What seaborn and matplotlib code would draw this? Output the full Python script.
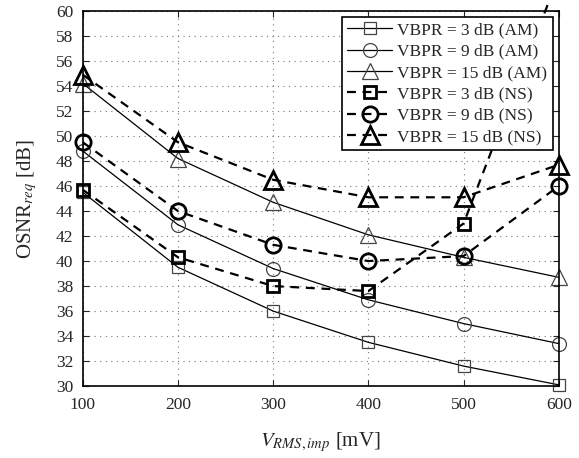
import matplotlib
matplotlib.use("Agg")
import matplotlib.pyplot as plt
import seaborn as sns
import pandas as pd
from matplotlib.patches import Rectangle

v_rms = [100, 200, 300, 400, 500, 600]

am_3 = [45.5, 39.5, 36.0, 33.5, 31.6, 30.1]
am_9 = [48.8, 42.9, 39.4, 36.9, 35.0, 33.4]
am_15 = [54.2, 48.2, 44.7, 42.1, 40.3, 38.7]

ns_3 = [45.7, 40.3, 38.0, 37.6, 43.0, 62.8]
ns_9 = [49.5, 44.0, 41.3, 40.0, 40.4, 46.0]
ns_15 = [54.9, 49.5, 46.5, 45.1, 45.1, 47.7]

labels = ["VBPR = 3 dB (AM)", "VBPR = 9 dB (AM)", "VBPR = 15 dB (AM)",
          "VBPR = 3 dB (NS)", "VBPR = 9 dB (NS)", "VBPR = 15 dB (NS)"]

sns.set_style("ticks")
plt.rcParams["font.family"] = ["Liberation Serif", "DejaVu Serif"]
plt.rcParams["mathtext.fontset"] = "stix"

fig = plt.figure(figsize=(5.79, 4.58), dpi=100)
ax = fig.add_axes([0.143, 0.157, 0.822, 0.819])

series = [
    (am_3, "s", 8.5, "-", 0.9, "#444444", 0.9),
    (am_9, "o", 10, "-", 0.9, "#444444", 0.9),
    (am_15, "^", 11, "-", 0.9, "#444444", 0.9),
    (ns_3, "s", 9, (0, (4, 3)), 1.6, "black", 2.0),
    (ns_9, "o", 11, (0, (4, 3)), 1.6, "black", 2.0),
    (ns_15, "^", 13, (0, (4, 3)), 1.6, "black", 2.0),
]

for (vals, mk, ms, ls, lw, mec, mew), lab in zip(series, labels):
    df = pd.DataFrame({"x": v_rms, "y": vals})
    sns.lineplot(data=df, x="x", y="y", ax=ax, marker=mk, markersize=ms,
                 linestyle=ls, linewidth=lw, color="black",
                 markeredgecolor=mec, markerfacecolor="none",
                 markeredgewidth=mew, label=lab, clip_on=False)
for line in ax.get_lines():
    line.set_clip_path(Rectangle((-0.1, -0.1), 1.2, 1.1, transform=ax.transAxes))

ax.set_xlim(100, 600)
ax.set_ylim(30, 60)
ax.set_xticks(range(100, 601, 100))
ax.set_yticks(range(30, 61, 2))
ax.grid(True, linestyle=(0, (1, 4)), color="#777777", linewidth=0.8)
ax.tick_params(direction="in", top=True, right=True, length=4, labelsize=12.5, width=0.8)
ax.tick_params(axis="x", pad=8)
ax.tick_params(axis="y", pad=7)
for s in ax.spines.values():
    s.set_linewidth(1.2)
    s.set_color("black")

ax.set_xlabel("$V_{RMS,imp}$ [mV]", fontsize=15, labelpad=12)
ax.set_ylabel("OSNR$_{req}$ [dB]", fontsize=15, labelpad=12)

leg = ax.legend(loc="upper right", fontsize=12.5, frameon=True, fancybox=False,
                framealpha=1, edgecolor="black", handlelength=2.6,
                borderpad=0.3, labelspacing=0.3, handletextpad=0.3,
                borderaxespad=0.35)
leg.get_frame().set_linewidth(1.2)

fig.savefig("out.png", dpi=100)
